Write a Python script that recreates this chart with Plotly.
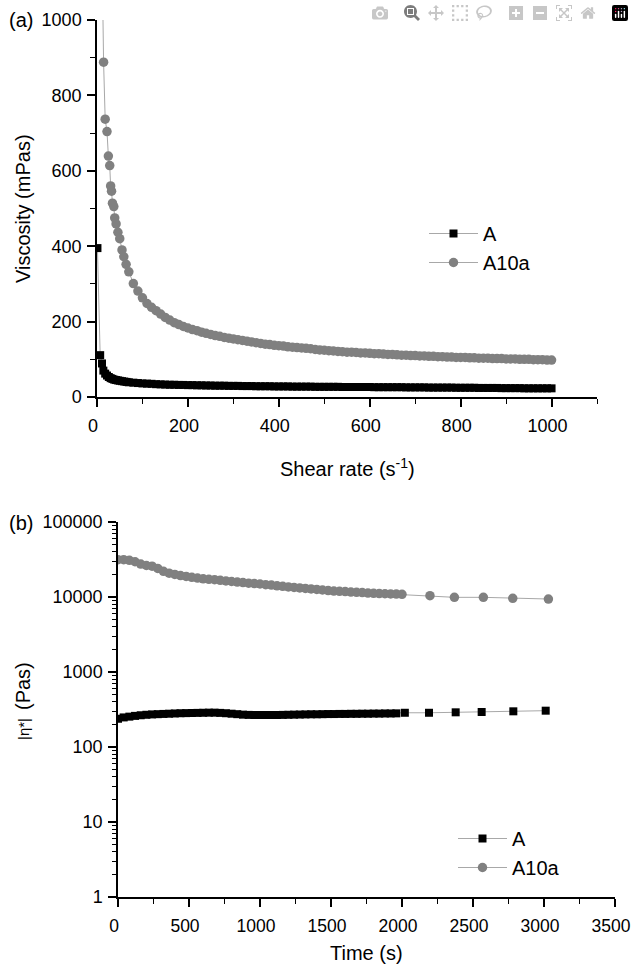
import plotly.graph_objects as go

# ---------------- (a) viscosity vs shear rate ----------------
shear_A = [1, 7, 11, 14, 18, 22, 26, 30, 34, 38, 42, 46, 50, 55, 60, 65,
           70, 80, 90, 100, 110, 120, 130, 140, 150, 160,
           170, 180, 190, 200, 210, 220, 230, 240, 250, 260,
           270, 280, 290, 300, 310, 320, 330, 340, 350, 360,
           370, 380, 390, 400, 410, 420, 430, 440, 450, 460,
           470, 480, 490, 500, 510, 520, 530, 540, 550, 560,
           570, 580, 590, 600, 610, 620, 630, 640, 650, 660,
           670, 680, 690, 700, 710, 720, 730, 740, 750, 760,
           770, 780, 790, 800, 810, 820, 830, 840, 850, 860,
           870, 880, 890, 900, 910, 920, 930, 940, 950, 960,
           970, 980, 990, 1000]
visc_A = [395, 111, 89, 70, 62, 57, 53, 50, 48, 46, 45, 44, 43, 42, 41, 40,
          39, 38, 37, 36, 35.5, 35, 34, 33.5, 33, 32.5,
          32.5, 32, 32, 31.5, 31.5, 31, 31, 30.5, 30.5, 30,
          30, 30, 29.5, 29.5, 29.5, 29, 29, 29, 28.5, 28.5,
          28.5, 28.5, 28, 28, 28, 28, 27.5, 27.5, 27.5, 27.5,
          27.5, 27, 27, 27, 27, 27, 27, 26.5, 26.5, 26.5,
          26.5, 26.5, 26.5, 26.5, 26, 26, 26, 26, 26, 26,
          26, 25.5, 25.5, 25.5, 25.5, 25.5, 25, 25, 25, 25,
          25, 25, 24.5, 24.5, 24.5, 24.5, 24.5, 24, 24, 24,
          24, 24, 23.5, 23.5, 23.5, 23.5, 23.5, 23, 23, 23,
          23, 23, 23, 23]

shear_A10a = [7, 14.5, 18, 22, 25, 28, 30, 32, 34, 37, 39, 42, 46, 50, 55, 59, 64,
              70, 80, 90, 100, 110, 120, 130, 140, 150, 160,
              170, 180, 190, 200, 210, 220, 230, 240, 250, 260,
              270, 280, 290, 300, 310, 320, 330, 340, 350, 360,
              370, 380, 390, 400, 410, 420, 430, 440, 450, 460,
              470, 480, 490, 500, 510, 520, 530, 540, 550, 560,
              570, 580, 590, 600, 610, 620, 630, 640, 650, 660,
              670, 680, 690, 700, 710, 720, 730, 740, 750, 760,
              770, 780, 790, 800, 810, 820, 830, 840, 850, 860,
              870, 880, 890, 900, 910, 920, 930, 940, 950, 960,
              970, 980, 990, 1000]
visc_A10a = [1530, 888, 737, 704, 639, 614, 560, 546, 514, 505, 475, 459, 437, 420, 390, 372, 352,
             332, 301, 281, 263, 248, 238, 229, 220, 211, 204,
             197, 192, 187, 183, 179, 176, 172, 169, 166, 163,
             161, 158, 156, 154, 152, 150, 148, 146, 144, 142,
             140, 139, 137, 136, 135, 133, 132, 131, 130, 129,
             128, 126, 125, 124, 123, 122, 121, 120, 119, 119,
             118, 117, 117, 116, 115, 115, 114, 113, 113, 112,
             111, 111, 110, 110, 109, 109, 108, 108, 107, 107,
             106, 106, 105, 105, 105, 104, 104, 103, 103, 103,
             102, 102, 102, 101, 101, 101, 100, 100, 100, 99,
             99, 99, 98, 98]

# ---------------- (b) complex viscosity vs time ----------------
time_A = [0, 40, 80, 120, 160, 200, 240, 280, 320, 360,
          400, 440, 480, 520, 560, 600, 640, 680, 720, 760,
          800, 840, 880, 920, 960, 1000, 1040, 1080, 1120, 1160,
          1200, 1240, 1280, 1320, 1360, 1400, 1440, 1480, 1520, 1560,
          1600, 1640, 1680, 1720, 1760, 1800, 1840, 1880, 1920, 1960,
          2020, 2190, 2378, 2561, 2784, 3012]
eta_A = [238, 248, 254, 260, 265, 269, 272, 274, 276, 278,
         280, 282, 283, 284, 285, 286, 287, 287, 285, 282,
         278, 274, 270, 268, 267, 267, 267, 267, 267, 268,
         269, 270, 271, 272, 273, 273, 274, 275, 275, 276,
         276, 277, 277, 278, 278, 279, 279, 280, 280, 281,
         286, 286, 290, 293, 299, 305]

time_A10a = [0, 40, 80, 120, 160, 200, 240, 280, 320, 360,
             400, 440, 480, 520, 560, 600, 640, 680, 720, 760,
             800, 840, 880, 920, 960, 1000, 1040, 1080, 1120, 1160,
             1200, 1240, 1280, 1320, 1360, 1400, 1440, 1480, 1520, 1560,
             1600, 1640, 1680, 1720, 1760, 1800, 1840, 1880, 1920, 1960,
             2000, 2197, 2369, 2573, 2780, 3031]
eta_A10a = [31500, 31500, 30800, 29500, 27500, 26300, 25800, 24000, 22000, 20800,
            20000, 19300, 18800, 18300, 17900, 17500, 17200, 17000, 16700, 16400,
            16100, 15800, 15600, 15300, 15100, 14900, 14600, 14400, 14100, 13900,
            13600, 13400, 13200, 13000, 12800, 12600, 12400, 12200, 12000, 11900,
            11800, 11650, 11550, 11450, 11300, 11200, 11100, 11050, 11000, 10950,
            10850, 10400, 9900, 9900, 9600, 9400]

log_tickvals = [1, 10, 100, 1000, 10000, 100000]
log_ticktext = ["1", "10", "100", "1000", "10000", "100000"]

FONT = "Liberation Sans, Arial, sans-serif"
LINE_GRAY = "#a8a8a8"
MARK_GRAY = "#808080"

W, H = 634, 966

fig = go.Figure()

fig.add_trace(go.Scatter(x=shear_A, y=visc_A, name="A", mode="lines+markers",
                         line=dict(color=LINE_GRAY, width=1),
                         marker=dict(symbol="square", size=8, color="black"),
                         xaxis="x", yaxis="y", legend="legend"))
fig.add_trace(go.Scatter(x=shear_A10a, y=visc_A10a, name="A10a", mode="lines+markers",
                         line=dict(color=LINE_GRAY, width=1),
                         marker=dict(symbol="circle", size=9.5, color=MARK_GRAY),
                         xaxis="x", yaxis="y", legend="legend"))
fig.add_trace(go.Scatter(x=time_A, y=eta_A, name="A", mode="lines+markers",
                         line=dict(color=LINE_GRAY, width=1),
                         marker=dict(symbol="square", size=8, color="black"),
                         xaxis="x2", yaxis="y2", legend="legend2"))
fig.add_trace(go.Scatter(x=time_A10a, y=eta_A10a, name="A10a", mode="lines+markers",
                         line=dict(color=LINE_GRAY, width=1),
                         marker=dict(symbol="circle", size=9.5, color=MARK_GRAY),
                         xaxis="x2", yaxis="y2", legend="legend2"))

def px_x(p):
    return p / W

def px_y(p):
    return 1 - p / H

axis_common = dict(showline=True, linecolor="black", linewidth=1.5, ticks="outside",
                   ticklen=8, tickwidth=1.5, tickcolor="black", showgrid=False,
                   zeroline=False, mirror=False, automargin=False)

fig.update_layout(
    width=W, height=H, margin=dict(l=0, r=0, t=0, b=0, autoexpand=False),
    paper_bgcolor="white", plot_bgcolor="white",
    font=dict(family=FONT, color="black", size=18),
    xaxis=dict(domain=[px_x(97), px_x(597)], range=[0, 1100], dtick=200, anchor="y",
               ticklabelstandoff=4, ticklabelshift=-4,
               tickfont=dict(size=18, color="black", family=FONT),
               minor=dict(ticks="outside", ticklen=5, tickwidth=1.2, tickcolor="black", dtick=100),
               **axis_common),
    yaxis=dict(domain=[px_y(397), px_y(20)], range=[0, 1000], dtick=200, anchor="x",
               ticklabelstandoff=2,
               tickfont=dict(size=18, color="black", family=FONT),
               minor=dict(ticks="outside", ticklen=5, tickwidth=1.2, tickcolor="black", dtick=100),
               **axis_common),
    xaxis2=dict(domain=[px_x(118), px_x(615)], range=[0, 3500], dtick=500, anchor="y2",
                ticklabelstandoff=4, ticklabelshift=-4,
                tickfont=dict(size=17.5, color="black", family=FONT),
                minor=dict(ticks="outside", ticklen=5, tickwidth=1.2, tickcolor="black", dtick=250),
                **axis_common),
    yaxis2=dict(domain=[px_y(897), px_y(522)], type="log", range=[0, 5], anchor="x2",
                tickvals=log_tickvals, ticktext=log_ticktext, ticklabelstandoff=2,
                tickfont=dict(size=18, color="black", family=FONT),
                minor=dict(ticks="outside", ticklen=4, tickwidth=1, tickcolor="black", dtick="D1"),
                **axis_common),
    legend=dict(x=px_x(424), y=px_y(214), xanchor="left", yanchor="top",
                bgcolor="rgba(0,0,0,0)", itemwidth=49, font=dict(size=20, family=FONT),
                tracegroupgap=0),
    legend2=dict(x=px_x(453), y=px_y(819), xanchor="left", yanchor="top",
                 bgcolor="rgba(0,0,0,0)", itemwidth=49, font=dict(size=20, family=FONT),
                 tracegroupgap=0),
    showlegend=True,
)

ann = dict(xref="paper", yref="paper", showarrow=False, font=dict(size=20, family=FONT, color="black"))
fig.add_annotation(text="(a)", x=px_x(21), y=px_y(20), xanchor="center", yanchor="middle", **ann)
fig.add_annotation(text="(b)", x=px_x(21), y=px_y(523), xanchor="center", yanchor="middle", **ann)
fig.add_annotation(text="Viscosity (mPas)", x=px_x(23), y=px_y(209), textangle=-90,
                   xanchor="center", yanchor="middle", **ann)
fig.add_annotation(text="Shear rate (s<sup>-1</sup>)", x=px_x(347), y=px_y(467),
                   xanchor="center", yanchor="middle", **ann)
fig.add_annotation(text="|η*|", x=px_x(23), y=px_y(729), textangle=-90,
                   xanchor="center", yanchor="middle", xref="paper", yref="paper",
                   showarrow=False, font=dict(size=15, family=FONT, color="black"))
fig.add_annotation(text="(Pas)", x=px_x(23), y=px_y(686), textangle=-90,
                   xanchor="center", yanchor="middle", **ann)
fig.add_annotation(text="Time (s)", x=px_x(366), y=px_y(953),
                   xanchor="center", yanchor="middle", **ann)

# remove the browser's default page margin so the figure sits at the window origin
fig.write_html("out.html", post_script="document.body.style.margin='0px';")
